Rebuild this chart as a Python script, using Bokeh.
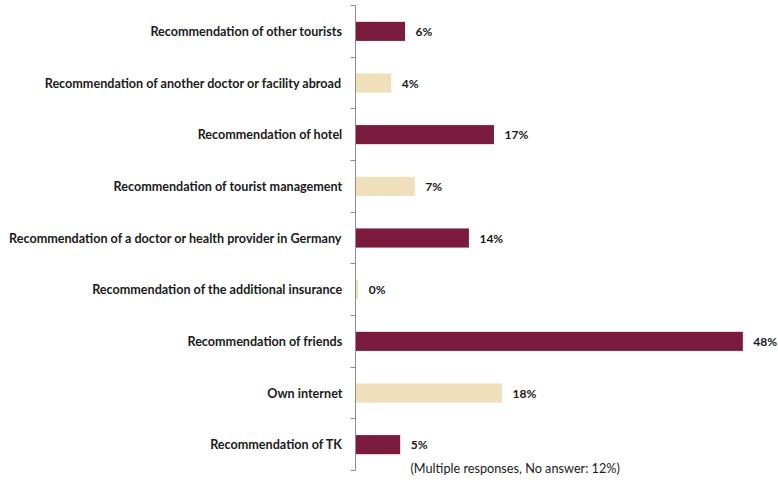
from bokeh.plotting import figure
from bokeh.models import Range1d, FixedTicker, ColumnDataSource, Label, LabelSet
from bokeh.embed import file_html
from bokeh.resources import INLINE
from bokeh.core.properties import value

categories = [
    "Recommendation of other tourists",
    "Recommendation of another doctor or facility abroad",
    "Recommendation of hotel",
    "Recommendation of tourist management",
    "Recommendation of a doctor or health provider in Germany",
    "Recommendation of the additional insurance",
    "Recommendation of friends",
    "Own internet",
    "Recommendation of TK",
]
values = [6.2, 4.5, 17.2, 7.4, 14.1, 0.4, 48.0, 18.2, 5.6]
value_labels = ["6%", "4%", "17%", "7%", "14%", "0%", "48%", "18%", "5%"]
bar_colors = ["#7b1c3e", "#efdfbb", "#7b1c3e", "#efdfbb", "#7b1c3e",
              "#efdfbb", "#7b1c3e", "#efdfbb", "#7b1c3e"]
footnote = "(Multiple responses,  No answer: 12%)"

n = len(categories)
ypos = [n - i for i in range(n)]

src = ColumnDataSource(dict(y=ypos, v=values, lab=value_labels, c=bar_colors))

p = figure(width=778, height=482, output_backend="svg", toolbar_location=None,
           x_range=Range1d(0, 52.35), y_range=Range1d(0.268, n + 0.5),
           min_border_left=355, min_border_right=0, min_border_top=5,
           min_border_bottom=0)
p.outline_line_color = None
p.xaxis.visible = False
p.xgrid.visible = False
p.ygrid.visible = False

p.hbar(y="y", right="v", left=0, height=0.39, color="c", line_color="white",
       line_width=1, source=src)
p.add_layout(LabelSet(x="v", y="y", text="lab", source=src, x_offset=10,
                      text_baseline="middle", text_align="left",
                      text_font=value("Lato"), text_font_style="bold",
                      text_font_size="12px", text_color="#1a1a1a"))

ax = p.yaxis[0]
ax.bounds = (0.5, n + 0.5)
ax.ticker = FixedTicker(ticks=ypos, minor_ticks=[i + 0.5 for i in range(n + 1)])
ax.major_label_overrides = {y: c for y, c in zip(ypos, categories)}
ax.major_tick_out = 0
ax.major_tick_in = 0
ax.minor_tick_out = 5
ax.minor_tick_in = 0
ax.minor_tick_line_color = "#8c8c8c"
ax.axis_line_color = "#8c8c8c"
ax.major_label_standoff = 8
ax.major_label_text_font = "Lato"
ax.major_label_text_font_style = "bold"
ax.major_label_text_font_size = "12.6px"
ax.major_label_text_color = "#1a1a1a"

p.add_layout(Label(x=6.8, y=0.558, text=footnote, text_baseline="middle",
                   text_font="Lato", text_font_size="12.7px",
                   text_color="#1a1a1a"))

open("out.html", "w").write(file_html(p, INLINE))
